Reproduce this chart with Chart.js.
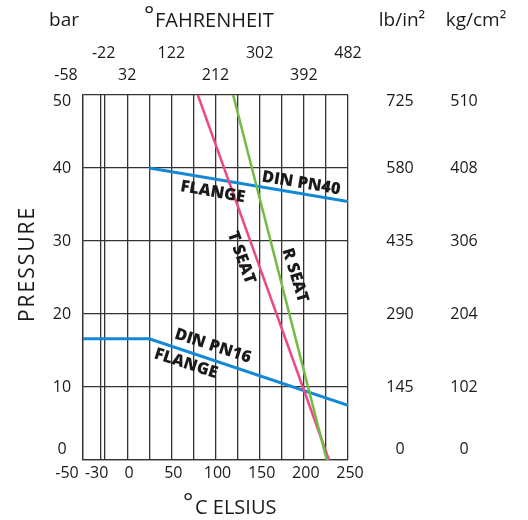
<!DOCTYPE html>
<html>
<head>
<meta charset="utf-8">
<script src="https://cdn.jsdelivr.net/npm/chart.js@4.4.1/dist/chart.umd.min.js"></script>
<style>
html,body{margin:0;padding:0;background:#fff;}
#wrap{width:528px;height:520px;}
</style>
</head>
<body>
<div id="wrap"><canvas id="c" width="528" height="520"></canvas></div>
<script>
// ---- data ----
const celsiusTicks = [-50, -30, 0, 50, 100, 150, 200, 250];
const fahrenheitTicks = [-58, -22, 32, 122, 212, 302, 392, 482];
const celsiusGrid = [-50, -30, -25, 0, 25, 50, 75, 100, 125, 150, 175, 200, 225, 250];
const barTicks = [0, 10, 20, 30, 40, 50];
const psiTicks = [0, 145, 290, 435, 580, 725];
const kgTicks = [0, 102, 204, 306, 408, 510];

const pn16Temp = [-50, 25, 250];
const pn16Bar = [16.6, 16.6, 7.5];
const pn40Temp = [25, 250];
const pn40Bar = [40, 35.4];
const rSeatTemp = [120, 226];
const rSeatBar = [50, 0];
const tSeatTemp = [80, 228.5];
const tSeatBar = [50, 0];

const curveLabels = [
  {text: 'DIN PN40', t: 197, p: 37.9, angle: 9.5},
  {text: 'FLANGE', t: 97, p: 36.7, angle: 10},
  {text: 'T SEAT', t: 129, p: 27.7, angle: 70},
  {text: 'R SEAT', t: 190, p: 25.3, angle: 73},
  {text: 'DIN PN16', t: 97, p: 15.6, angle: 18},
  {text: 'FLANGE', t: 66.5, p: 13.2, angle: 18}
];

const BLUE = '#1388d4', PINK = '#ec4a86', GREEN = '#72bb45', INK = '#1a1a1a';
const FONT = '"Open Sans", "Liberation Sans", sans-serif';

function pts(xs, ys){ return xs.map((x,i)=>({x:x, y:ys[i]})); }

const textPlugin = {
  id: 'texts',
  afterDatasetsDraw(chart){
    const ctx = chart.ctx, xs = chart.scales.x, ys = chart.scales.y, a = chart.chartArea;
    ctx.save();
    ctx.fillStyle = INK;
    // curve labels
    ctx.font = '800 16.5px ' + FONT;
    ctx.textAlign = 'center'; ctx.textBaseline = 'middle';
    curveLabels.forEach(l=>{
      ctx.save();
      ctx.translate(xs.getPixelForValue(l.t), ys.getPixelForValue(l.p));
      ctx.rotate(l.angle*Math.PI/180);
      ctx.fillText(l.text, 0, 0);
      ctx.restore();
    });
    // bottom celsius labels
    ctx.font = '500 16px ' + FONT;
    celsiusTicks.forEach((v,i)=>{
      let px = xs.getPixelForValue(v);
      if (i===0) px -= 16; else if (i===1) px -= 4; else px += 2;
      ctx.fillText(String(v), px, a.bottom + 13);
    });
    // fahrenheit labels, staggered
    fahrenheitTicks.forEach((f,i)=>{
      let px = xs.getPixelForValue(celsiusTicks[i]);
      if (i===0) px -= 17; else if (i===1) px += 3;
      const py = (i % 2 === 1) ? 53 : 75;
      ctx.fillText(String(f), px, py);
    });
    // left bar labels + right columns
    barTicks.forEach((b,i)=>{
      let py = ys.getPixelForValue(b);
      py = Math.min(Math.max(py, a.top + 6), a.bottom - 11);
      ctx.fillText(String(b), 62, py);
      ctx.fillText(String(psiTicks[i]), 400, py);
      ctx.fillText(String(kgTicks[i]), 464, py);
    });
    // headers
    ctx.font = '500 19px ' + FONT;
    ctx.fillText('bar', 64, 21);
    ctx.fillText('lb/in\u00B2', 402, 21);
    ctx.fillText('kg/cm\u00B2', 476, 21);
    ctx.textAlign = 'left';
    ctx.font = '500 20px ' + FONT;
    ctx.fillText('FAHRENHEIT', 155, 21);
    ctx.fillText('C ELSIUS', 195, 508);
    ctx.font = '500 24px ' + FONT;
    ctx.fillText('\u00B0', 144, 16);
    ctx.fillText('\u00B0', 183, 503);
    // y title
    ctx.textAlign = 'center';
    ctx.font = '500 21px ' + FONT;
    ctx.save();
    ctx.translate(28, 265);
    ctx.rotate(-Math.PI/2);
    ctx.letterSpacing = '2px';
    ctx.fillText('PRESSURE', 1, 0);
    ctx.restore();
    ctx.restore();
  }
};

new Chart(document.getElementById('c'), {
  type: 'scatter',
  data: {
    datasets: [
      {label:'R SEAT', data: pts(rSeatTemp, rSeatBar), borderColor: GREEN, borderWidth: 2.5},
      {label:'T SEAT', data: pts(tSeatTemp, tSeatBar), borderColor: PINK, borderWidth: 2.5},
      {label:'DIN PN40 FLANGE', data: pts(pn40Temp, pn40Bar), borderColor: BLUE, borderWidth: 3},
      {label:'DIN PN16 FLANGE', data: pts(pn16Temp, pn16Bar), borderColor: BLUE, borderWidth: 3}
    ].map(d=>Object.assign(d, {showLine:true, pointRadius:0, fill:false, tension:0, borderCapStyle:'butt'}))
  },
  options: {
    responsive: false,
    animation: false,
    devicePixelRatio: 1,
    layout: {padding: {left: 83, right: 180, top: 95, bottom: 60}},
    plugins: {legend: {display:false}, tooltip: {enabled:false}},
    scales: {
      x: {
        type: 'linear', min: -50, max: 250,
        afterBuildTicks: s => { s.ticks = celsiusGrid.map(v=>({value:v})); },
        ticks: {display:false},
        grid: {color:'#333', lineWidth:1.3, drawTicks:false},
        border: {display:true, color:'#333', width:1.3}
      },
      y: {
        type: 'linear', min: 0, max: 50,
        afterBuildTicks: s => { s.ticks = barTicks.map(v=>({value:v})); },
        ticks: {display:false},
        grid: {color:'#333', lineWidth:1.3, drawTicks:false},
        border: {display:true, color:'#333', width:1.3}
      }
    }
  },
  plugins: [textPlugin]
});
</script>
</body>
</html>
